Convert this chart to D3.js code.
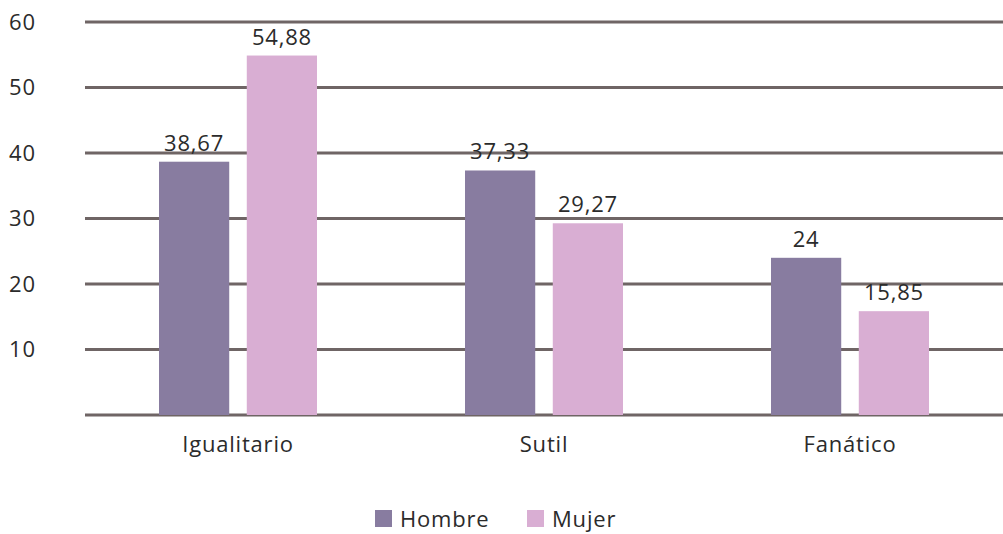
<!DOCTYPE html>
<html>
<head>
<meta charset="utf-8">
<script src="https://cdn.jsdelivr.net/npm/d3@7"></script>
<style>
  body { margin: 0; background: #fff; }
  text { font-family: "Open Sans", Lato, sans-serif; fill: #2b2b2b; letter-spacing: 0.8px; }
</style>
</head>
<body>
<svg width="1003" height="534"></svg>
<script>
var categories = ['Igualitario', 'Sutil', 'Fanático'];
var series = ['Hombre', 'Mujer'];
var hombre = [38.67, 37.33, 24];
var mujer = [54.88, 29.27, 15.85];
var labelsHombre = ['38,67', '37,33', '24'];
var labelsMujer = ['54,88', '29,27', '15,85'];
var yTicks = [10, 20, 30, 40, 50, 60];
var colors = ['#887ca0', '#d9aed3'];

var svg = d3.select('svg');
var margin = {left: 85, right: 0, top: 22, bottom: 119};
var width = 1003 - margin.left - margin.right;
var height = 534 - margin.top - margin.bottom;

var g = svg.append('g').attr('transform', 'translate(' + margin.left + ',' + margin.top + ')');

var x = d3.scaleBand().domain(categories).range([0, width]);
var x1 = d3.scaleBand().domain(series).range([x.bandwidth() / 2 - 79, x.bandwidth() / 2 + 79]).paddingInner(0.2);
var y = d3.scaleLinear().domain([0, 60]).range([height, 0]);

// gridlines
g.selectAll('.grid').data([0].concat(yTicks)).enter().append('line')
  .attr('x1', 0).attr('x2', width)
  .attr('y1', function (d) { return y(d); }).attr('y2', function (d) { return y(d); })
  .attr('stroke', '#6f6565').attr('stroke-width', 3);

// y tick labels
g.selectAll('.ytick').data(yTicks).enter().append('text')
  .attr('x', -85 + 9).attr('y', function (d) { return y(d); })
  .attr('dy', '0.35em').attr('text-anchor', 'start')
  .attr('font-size', 22)
  .text(function (d) { return d; });

var rows = categories.map(function (c, i) {
  return [{cat: c, s: 'Hombre', v: hombre[i], l: labelsHombre[i]},
          {cat: c, s: 'Mujer', v: mujer[i], l: labelsMujer[i]}];
});

var groups = g.selectAll('.cat').data(rows).enter().append('g')
  .attr('transform', function (d) { return 'translate(' + x(d[0].cat) + ',0)'; });

groups.selectAll('rect').data(function (d) { return d; }).enter().append('rect')
  .attr('x', function (d) { return x1(d.s); })
  .attr('width', x1.bandwidth())
  .attr('y', function (d) { return y(d.v); })
  .attr('height', function (d) { return y(0) - y(d.v); })
  .attr('fill', function (d, i) { return colors[i]; });

groups.selectAll('.lbl').data(function (d) { return d; }).enter().append('text')
  .attr('x', function (d) { return x1(d.s) + x1.bandwidth() / 2; })
  .attr('y', function (d) { return y(d.v) - 11; })
  .attr('text-anchor', 'middle').attr('font-size', 22)
  .text(function (d) { return d.l; });

// x axis labels
g.selectAll('.xlbl').data(categories).enter().append('text')
  .attr('x', function (d) { return x(d) + x.bandwidth() / 2; })
  .attr('y', height + 37)
  .attr('text-anchor', 'middle').attr('font-size', 22)
  .text(function (d) { return d; });

// legend
var legendX = [375, 527];
var legend = svg.selectAll('.leg').data(series).enter().append('g')
  .attr('transform', function (d, i) { return 'translate(' + legendX[i] + ',510)'; });
legend.append('rect').attr('width', 17).attr('height', 17).attr('fill', function (d, i) { return colors[i]; });
legend.append('text').attr('x', 25).attr('y', 9).attr('dy', '0.35em').attr('font-size', 22)
  .text(function (d) { return d; });
</script>
</body>
</html>
